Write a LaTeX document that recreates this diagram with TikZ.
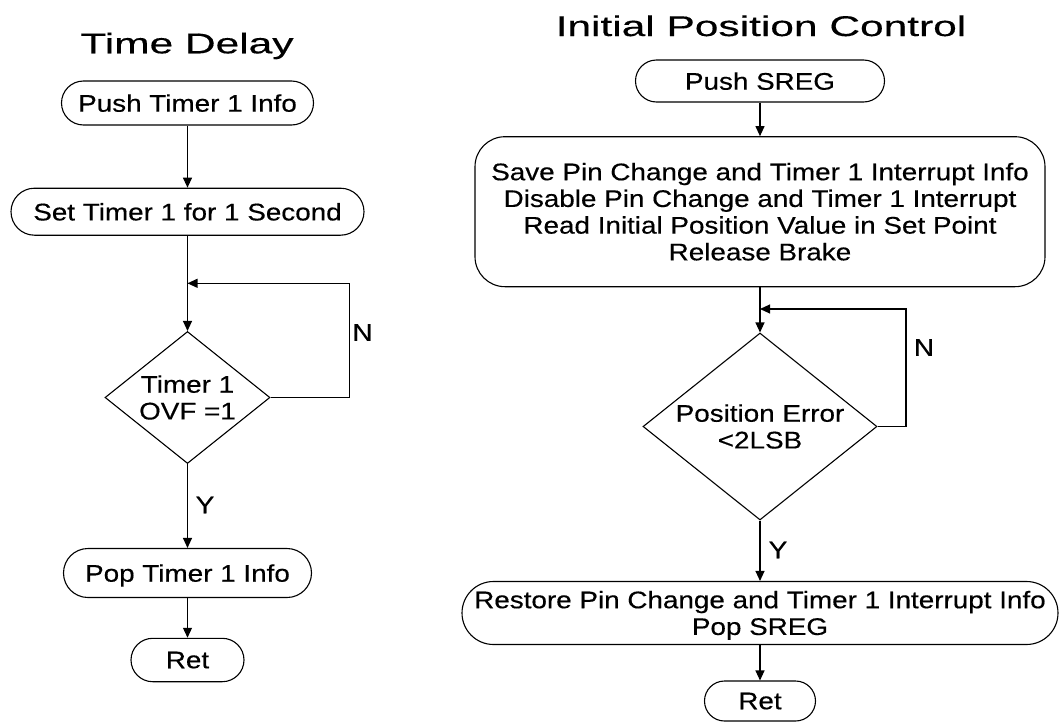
\documentclass[tikz,border=0pt]{standalone}
\usepackage{fontspec}
\setmainfont{Liberation Sans}
\newfontfamily\bodyf[FakeStretch=1.16,FakeBold=0.4]{Liberation Sans}
\newfontfamily\titlef[FakeStretch=1.49,FakeBold=0.4]{Liberation Sans}
\usetikzlibrary{shapes.geometric,arrows.meta}
\begin{document}
\begin{tikzpicture}[x=1pt,y=-1pt,
  every node/.style={font=\bodyf\fontsize{24}{26.7}\selectfont},
  lw/.style={line width=1.1pt},
  arr/.style={lw, -{Triangle[length=10pt,width=9pt]}},
  stadium/.style={draw, lw, rectangle, inner sep=0pt, text depth=0pt, rounded corners=#1},
  block/.style={draw, lw, rectangle, inner sep=0pt, align=center, rounded corners=#1},
  decision/.style={draw, lw, diamond, aspect=1.25, inner sep=0pt, align=center},
  titlenode/.style={font=\titlef\fontsize{28.5}{32}\selectfont, inner sep=0pt, anchor=base},
  lab/.style={inner sep=0pt, text depth=0pt}
]
\useasboundingbox (0,0) rectangle (1061,723);

% ---------- Time Delay ----------
\node[titlenode] (t1) at (187,53.3) {Time Delay};
\node[stadium=22, minimum width=252, minimum height=44] (a1) at (187.5,103) {Push Timer 1 Info};
\node[stadium=23.5, minimum width=353, minimum height=47] (a2) at (187.5,211.7) {Set Timer 1 for 1 Second};
\node[decision, minimum width=165, minimum height=132] (a3) at (187.5,397.5) {Timer 1\\OVF =1};
\node[stadium=24.5, minimum width=248, minimum height=49] (a4) at (187.5,573) {Pop Timer 1 Info};
\node[stadium=21.7, minimum width=113, minimum height=43.4] (a5) at (187.5,660) {Ret};
\coordinate (c1) at (349.3,283.3);
\coordinate (j1) at (187.5,283.3);
\node[lab] (n1) at (362.5,332.5) {N};
\node[lab] (y1) at (205,505) {Y};

\draw[arr] (a1.south) -- (a2.north);
\draw[arr] (a2.south) -- (a3.north);
\draw[arr] (a3.east) -| (c1) -- (j1);
\draw[arr] (a3.south) -- (a4.north);
\draw[arr] (a4.south) -- (a5.north);

% ---------- Initial Position Control ----------
\node[titlenode] (t2) at (761,36) {Initial Position Control};
\node[stadium=21, minimum width=249, minimum height=42] (b1) at (760,81) {Push SREG};
\node[block=30, minimum width=570, minimum height=150] (b2) at (760,211.7)
  {Save Pin Change and Timer 1 Interrupt Info\\Disable Pin Change and Timer 1 Interrupt\\Read Initial Position Value in Set Point\\Release Brake};
\node[decision, minimum width=234, minimum height=187] (b3) at (760,426.5) {Position Error\\<2LSB};
\node[block=31.5, minimum width=596, minimum height=63] (b4) at (760,613)
  {Restore Pin Change and Timer 1 Interrupt Info\\Po\smash{p} SREG};
\node[stadium=20, minimum width=111, minimum height=40] (b5) at (760,701) {Ret};
\coordinate (c2) at (906,309);
\coordinate (j2) at (760,309);
\node[lab] (n2) at (924,347.5) {N};
\node[lab] (y2) at (778,550) {Y};

\draw[arr] (b1.south) -- (b2.north);
\draw[arr] (b2.south) -- (b3.north);
\draw[arr] (b3.east) -| (c2) -- (j2);
\draw[arr] (b3.south) -- (b4.north);
\draw[arr] (b4.south) -- (b5.north);
\end{tikzpicture}
\end{document}
